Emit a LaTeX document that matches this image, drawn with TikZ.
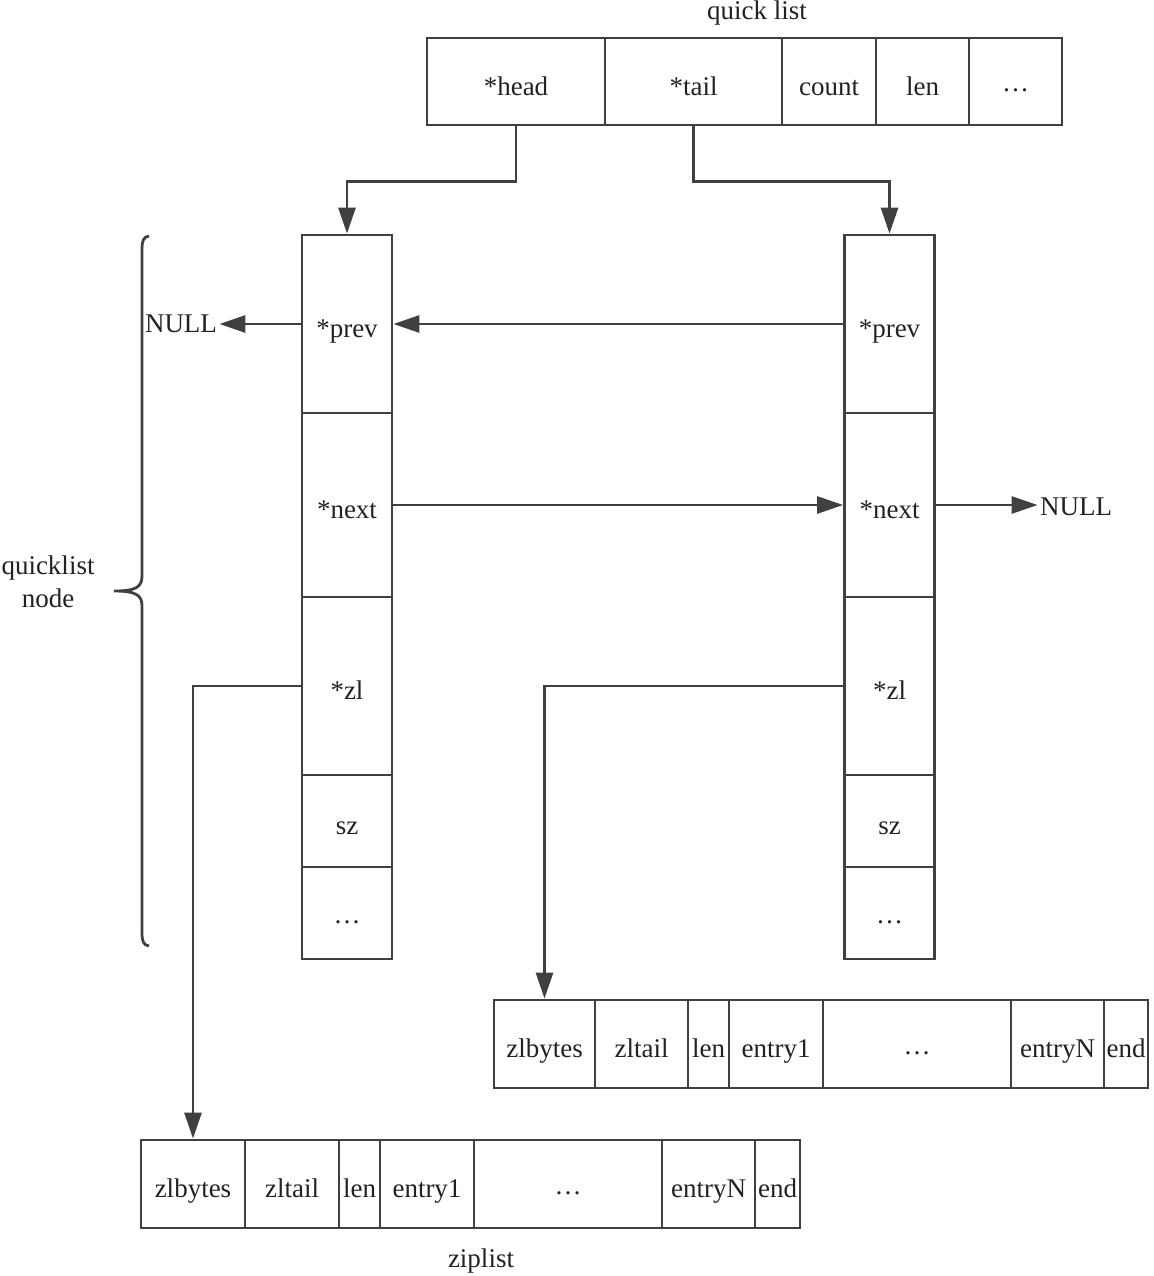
\documentclass[tikz,border=0pt]{standalone}
\usepackage{fontspec}
\setmainfont{Liberation Serif}
\usetikzlibrary{arrows.meta}
\definecolor{linegray}{HTML}{404040}
\definecolor{textgray}{HTML}{222222}
\newcommand{\middots}{\raisebox{0.28ex}{…}}
\tikzset{
  wh/.style 2 args={minimum width=#1*0.5pt, minimum height=#2*0.5pt},
  cell/.style={draw=linegray, line width=1.4pt, inner sep=0pt, text=textgray,
    text height=14.5pt, text depth=0.8pt, font=\fontsize{13.5}{16}\selectfont},
  lbl/.style={inner sep=1pt, text=textgray, align=center,
    font=\fontsize{13.5}{16.5}\selectfont},
  arr/.style={draw=linegray, line width=1.4pt, -{Triangle[length=13pt,width=8.5pt]}},
  bracepath/.style={draw=linegray, line width=1.4pt},
}
\begin{document}
\begin{tikzpicture}[x=0.5pt,y=-0.5pt]
\useasboundingbox (0,0) rectangle (1153,1276);
% quick list header
\node[lbl] (qtitle) at (757,13) {quick list};
\node[cell,wh={178}{87}] (qhead) at (516,81.5) {*head};
\node[cell,wh={177}{87}] (qtail) at (693.5,81.5) {*tail};
\node[cell,wh={94}{87}] (qcount) at (829,81.5) {count};
\node[cell,wh={93}{87}] (qlen) at (922.5,81.5) {len};
\node[cell,wh={93}{87}] (qdots) at (1015.5,81.5) {\middots};
% left quicklist node
\node[cell,wh={90}{178}] (lprev) at (347,324) {*prev};
\node[cell,wh={90}{184}] (lnext) at (347,505) {*next};
\node[cell,wh={90}{178}] (lzl) at (347,686) {*zl};
\node[cell,wh={90}{92}] (lsz) at (347,821) {sz};
\node[cell,wh={90}{92}] (ldots) at (347,913) {\middots};
% right quicklist node
\node[cell,wh={90}{178}] (rprev) at (889.5,324) {*prev};
\node[cell,wh={90}{184}] (rnext) at (889.5,505) {*next};
\node[cell,wh={90}{178}] (rzl) at (889.5,686) {*zl};
\node[cell,wh={90}{92}] (rsz) at (889.5,821) {sz};
\node[cell,wh={90}{92}] (rdots) at (889.5,913) {\middots};
% NULL ends
\node[lbl] (nullL) at (181,324) {NULL};
\node[lbl] (nullR) at (1076,507) {NULL};
% right ziplist
\node[cell,wh={101}{88}] (rzlbytes) at (544.5,1044) {zlbytes};
\node[cell,wh={93}{88}] (rzltail) at (641.5,1044) {zltail};
\node[cell,wh={41}{88}] (rlen) at (708.5,1044) {len};
\node[cell,wh={94}{88}] (rentry1) at (776,1044) {entry1};
\node[cell,wh={188}{88}] (rzdots) at (917,1044) {\middots};
\node[cell,wh={93}{88}] (rentryN) at (1057.5,1044) {entryN};
\node[cell,wh={44}{88}] (rend) at (1126,1044) {end};
% left ziplist
\node[cell,wh={104}{88}] (lzlbytes) at (193,1184) {zlbytes};
\node[cell,wh={94}{88}] (lzltail) at (292,1184) {zltail};
\node[cell,wh={41}{88}] (llen) at (359.5,1184) {len};
\node[cell,wh={94}{88}] (lentry1) at (427,1184) {entry1};
\node[cell,wh={188}{88}] (lzdots) at (568,1184) {\middots};
\node[cell,wh={93}{88}] (lentryN) at (708.5,1184) {entryN};
\node[cell,wh={45}{88}] (lend) at (777.5,1184) {end};
\node[lbl] (ztitle) at (481,1261) {ziplist};
% brace and its label
\node[lbl] (qnode) at (48,582) {quicklist\\node};
\draw[bracepath] (149,236) .. controls (143,237) and (142,241) .. (142,250)
  -- (142,576) .. controls (142,587) and (136,591) .. (114,591)
  .. controls (136,591) and (142,595) .. (142,606)
  -- (142,932) .. controls (142,941) and (143,945) .. (149,946);
% pointers
\draw[arr] (qhead.south) -- ++(0,55) -| (lprev.north);
\draw[arr] (qtail.south) -- ++(0,55) -| (rprev.north);
\draw[arr] (lprev.west) -- (lprev.west -| nullL.east);
\draw[arr] (rprev.west) -- (lprev.east);
\draw[arr] (lnext.east) -- (rnext.west);
\draw[arr] (rnext.east) -- (rnext.east -| nullR.west);
\draw[arr] (lzl.west) -| (lzlbytes.north);
\draw[arr] (rzl.west) -| (rzlbytes.north);
\end{tikzpicture}
\end{document}
